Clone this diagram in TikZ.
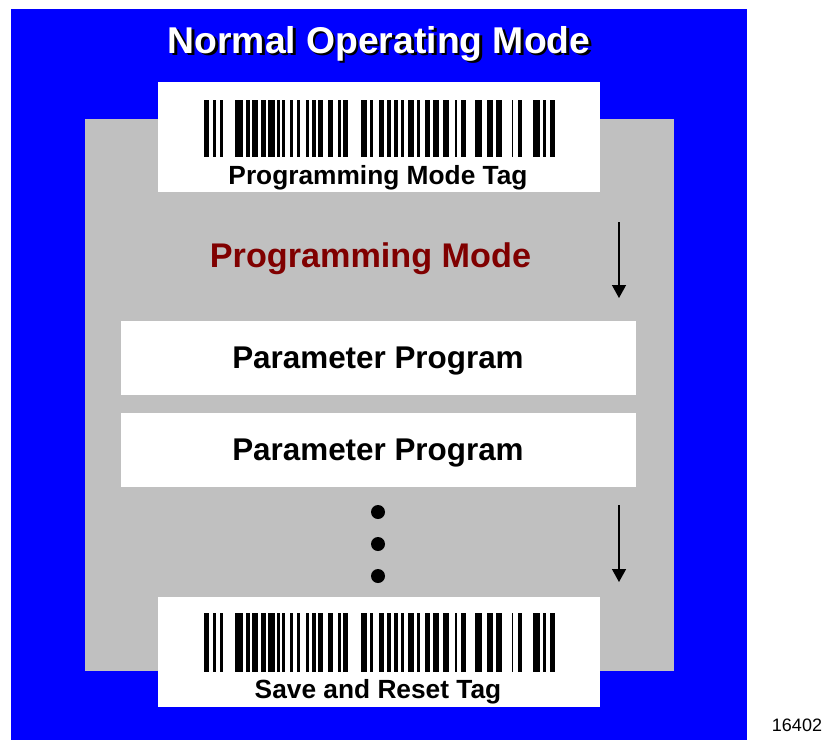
\documentclass[tikz,border=0pt]{standalone}
\usepackage{fontspec}
\setmainfont{Liberation Sans}
\usetikzlibrary{arrows.meta}
\definecolor{bgblue}{RGB}{0,0,255}
\definecolor{panelgray}{RGB}{192,192,192}
\definecolor{darkred}{RGB}{128,0,0}
\newcommand{\mybarcode}[2]{%
  \foreach \a/\b in {204/209,213/216,220/223,235/243,246/250,252/258,261/266,268/275,277/280,282/285,290/293,297/300,306/309,312/316,318/323,328/333,338/341,343/348,361/367,370/373,379/384,387/391,394/398,401/404,408/414,417/420,425/430,433/439,443/449,455/457,461/466,475/482,487/493,496/502,512/513,518/522,533/540,543/546,550/555}
    {\fill[black] (\a,#1) rectangle (\b,#2);}}
\newcommand{\shadowtext}[1]{\makebox[0pt][l]{\hspace{2.5pt}\raisebox{-2.5pt}{\color{black}#1}}{\color{white}#1}}
\begin{document}
\begin{tikzpicture}[x=1pt,y=-1pt,
  whitebox/.style={fill=white,draw=none,inner sep=0pt,anchor=north west},
  tagtext/.style={font=\bfseries\fontsize{26.3}{26.3}\selectfont,anchor=base,inner sep=0pt},
  paramtext/.style={font=\bfseries\fontsize{31.4}{31.4}\selectfont,anchor=base,inner sep=0pt},
  flowarrow/.style={line width=1.4pt,-{Triangle[width=14pt,length=13pt]}},
  dot/.style={circle,fill=black,minimum size=14pt,inner sep=0pt}]
\useasboundingbox (0,0) rectangle (828,740);
% background panels
\fill[bgblue] (11,9) rectangle (747,740);
\fill[panelgray] (85,119) rectangle (674,671);
% title with shadow
\node[font=\bfseries\fontsize{37.3}{37.3}\selectfont,anchor=base,inner sep=0pt] (title) at (379,53) {\shadowtext{Normal Operating Mode}};
% top tag
\node[whitebox,minimum width=442pt,minimum height=110pt] (toptag) at (158,82) {};
\mybarcode{100}{157}
\node[tagtext] (toptagtext) at (378,184) {Programming Mode Tag};
% programming mode label
\node[font=\bfseries\fontsize{34.2}{34.2}\selectfont,text=darkred,anchor=base,inner sep=0pt] (progmode) at (370.5,267) {Programming Mode};
% parameter boxes
\node[whitebox,minimum width=515pt,minimum height=74pt] (param1) at (121,321) {};
\node[paramtext] (param1text) at (378,368) {Parameter Program};
\node[whitebox,minimum width=515pt,minimum height=74pt] (param2) at (121,413) {};
\node[paramtext] (param2text) at (378,460) {Parameter Program};
% dots
\node[dot] (dot1) at (378,512) {};
\node[dot] (dot2) at (378,544) {};
\node[dot] (dot3) at (378,576) {};
% bottom tag
\node[whitebox,minimum width=442pt,minimum height=110pt] (bottag) at (158,597) {};
\mybarcode{613}{672}
\node[tagtext] (bottagtext) at (378,698) {Save and Reset Tag};
% arrows
\coordinate (a1s) at (619,222);
\coordinate (a1e) at (619,298);
\coordinate (a2s) at (619,505);
\coordinate (a2e) at (619,582);
\draw[flowarrow] (a1s) -- (a1e);
\draw[flowarrow] (a2s) -- (a2e);
% figure number
\node[font=\fontsize{18}{18}\selectfont,anchor=base,inner sep=0pt] (fignum) at (797,731) {16402};
\end{tikzpicture}
\end{document}
